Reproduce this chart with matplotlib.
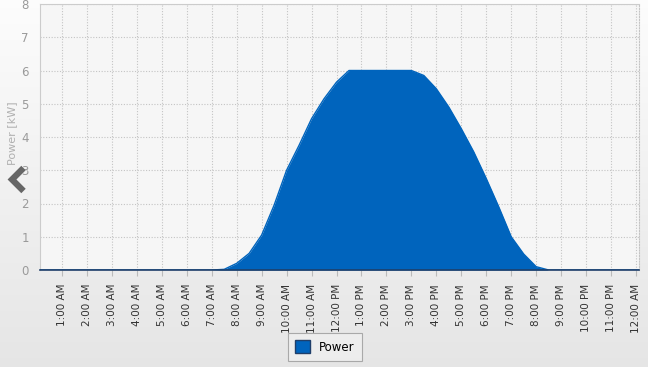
import numpy as np
import matplotlib
matplotlib.use("Agg")
import matplotlib.pyplot as plt
from matplotlib.patches import Patch
from matplotlib.lines import Line2D

# ---- data ----
hours = [0.0, 0.5, 1.0, 1.5, 2.0, 2.5, 3.0, 3.5, 4.0, 4.5, 5.0, 5.5, 6.0, 6.5, 7.0,
         7.5, 8.0, 8.5, 9.0, 9.5, 10.0, 10.5, 11.0, 11.5, 12.0, 12.5, 13.0, 13.5,
         14.0, 14.5, 15.0, 15.5, 16.0, 16.5, 17.0, 17.5, 18.0, 18.5, 19.0, 19.5,
         20.0, 20.5, 21.0, 21.5, 22.0, 22.5, 23.0, 23.5, 24.0, 24.5]
power_kw = [0, 0, 0, 0, 0, 0, 0, 0, 0, 0, 0, 0, 0, 0, 0,
            0.02, 0.2, 0.5, 1.05, 1.95, 3.0, 3.75, 4.55, 5.15, 5.65, 6.0, 6.0, 6.0,
            6.0, 6.0, 6.0, 5.85, 5.45, 4.9, 4.25, 3.55, 2.75, 1.9, 1.0, 0.48,
            0.1, 0.0, 0, 0, 0, 0, 0, 0, 0, 0]
tick_hours = list(range(1, 25))
tick_labels = ["1:00 AM", "2:00 AM", "3:00 AM", "4:00 AM", "5:00 AM", "6:00 AM",
               "7:00 AM", "8:00 AM", "9:00 AM", "10:00 AM", "11:00 AM", "12:00 PM",
               "1:00 PM", "2:00 PM", "3:00 PM", "4:00 PM", "5:00 PM", "6:00 PM",
               "7:00 PM", "8:00 PM", "9:00 PM", "10:00 PM", "11:00 PM", "12:00 AM"]
series_name = "Power"
y_label = "Power [kW]"

W, H = 648, 367
fig = plt.figure(figsize=(W / 100, H / 100), dpi=100)

# background gradient
bg = fig.add_axes([0, 0, 1, 1], zorder=-10)
grad = np.linspace(1.0, 0.0, 256).reshape(-1, 1)
top = np.array([0.99, 0.99, 0.99])
bot = np.array([0.90, 0.90, 0.90])
img = (grad[..., None] * top + (1 - grad[..., None]) * bot)
img = np.repeat(img, 2, axis=1)
bg.imshow(img, aspect="auto", extent=[0, 1, 0, 1])
bg.set_axis_off()

ax = fig.add_axes([40 / W, 1 - 270 / H, (639 - 40) / W, (270 - 4) / H])
ax.set_facecolor("#f6f6f6")

blue = "#0064bd"
ax.fill_between(hours, power_kw, 0, color=blue, linewidth=0, zorder=3)
ax.plot(hours, power_kw, color=blue, linewidth=1.0, zorder=4)

ax.set_xlim(0.12, 24.12)
ax.set_ylim(0, 8)
ax.set_yticks(range(0, 9))
ax.set_xticks(tick_hours)
ax.set_xticklabels(tick_labels, rotation=90, fontsize=7.5, color="#333333")
ax.tick_params(axis="x", length=4, color="#bbbbbb", pad=6)
ax.tick_params(axis="y", length=0, labelsize=8.5, labelcolor="#9a9a9a", pad=8)

ax.grid(True, linestyle=(0, (1, 1.5)), color="#c4c4c4", linewidth=0.8, zorder=1)
ax.set_axisbelow(True)

for s in ["left", "top"]:
    ax.spines[s].set_color("#cccccc")
    ax.spines[s].set_linewidth(0.8)
ax.spines["right"].set_color("#c4c4c4")
ax.spines["right"].set_linestyle((0, (1, 1.5)))
ax.spines["bottom"].set_color("#1f3f6a")
ax.spines["bottom"].set_linewidth(1.2)
ax.spines["bottom"].set_zorder(5)

fig.text(12 / W, 1 - 133 / H, y_label, rotation=90, fontsize=8, color="#b0b0b0",
         ha="center", va="center")

# navigation chevron
fig.add_artist(Line2D([23.5 / W, 12 / W, 23.5 / W],
                      [1 - 168 / H, 1 - 179.5 / H, 1 - 191 / H],
                      color="#666666", linewidth=4.5, solid_joinstyle="miter",
                      solid_capstyle="butt", transform=fig.transFigure))

leg = fig.legend(handles=[Patch(facecolor=blue, edgecolor="#1f3f6a", label=series_name)],
                 loc="center", bbox_to_anchor=(325 / W, 1 - 347 / H),
                 frameon=True, fancybox=False, fontsize=8.5,
                 handlelength=1.2, handleheight=1.2, borderpad=0.6,
                 handletextpad=0.8)
leg.get_frame().set_edgecolor("#999999")
leg.get_frame().set_facecolor("#efefef")
leg.get_frame().set_linewidth(0.8)

fig.savefig("out.png", dpi=100)
